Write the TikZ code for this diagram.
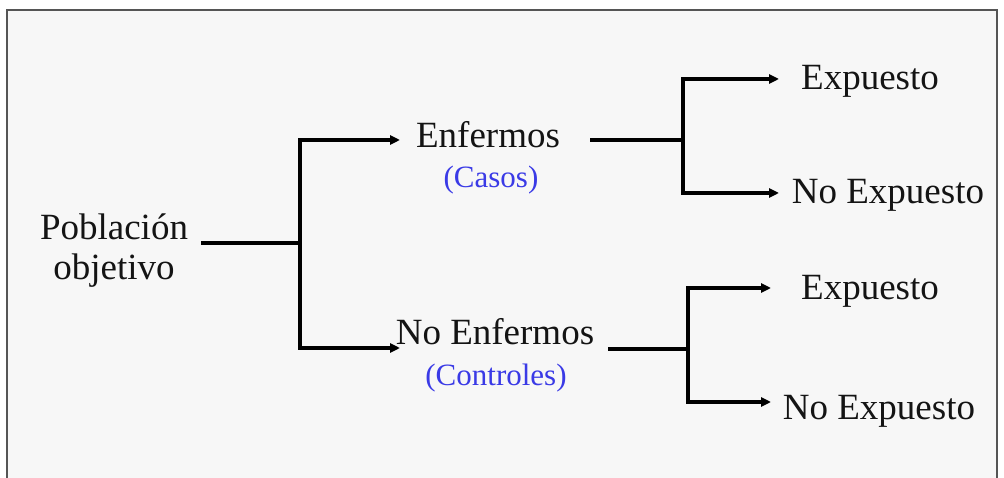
\documentclass[tikz,border=0pt]{standalone}
\usepackage{fontspec}
\setmainfont{Liberation Serif}
\usetikzlibrary{arrows.meta}
\definecolor{bgc}{HTML}{F7F7F7}
\definecolor{framec}{HTML}{555555}
\definecolor{labblue}{HTML}{3A3AE6}
\definecolor{txt}{HTML}{141414}
\tikzset{
  lbl/.style={text=txt, font=\fontsize{37}{40}\selectfont, inner sep=0pt, align=center},
  sub/.style={text=labblue, font=\fontsize{31}{34}\selectfont, inner sep=0pt},
  conn/.style={line width=3.2pt, black, line cap=butt, line join=miter},
  arr/.style={conn, -{Triangle[length=10pt,width=9pt]}}
}
\begin{document}
\begin{tikzpicture}[x=1pt,y=-1pt]
\useasboundingbox (0,0) rectangle (1004,478);
\clip (0,0) rectangle (1004,478);
\fill[white] (0,0) rectangle (1004,478);
\draw[fill=bgc, draw=framec, line width=1.8pt] (7,10) rectangle (997,490);

% nodes
\node[lbl] (pob) at (114,251) {Población\\objetivo};
\node[lbl] (enf) at (488,135) {Enfermos};
\node[sub] (cas) at (491,180) {(Casos)};
\node[lbl] (noenf) at (495,332) {No Enfermos};
\node[sub] (con) at (496,378) {(Controles)};
\node[lbl] (e1) at (870,81) {Expuesto};
\node[lbl] (ne1) at (888,195) {No Expuesto};
\node[lbl] (e2) at (870,291) {Expuesto};
\node[lbl] (ne2) at (879,411) {No Expuesto};

% junction coordinates
\coordinate (p0) at (201,243);
\coordinate (j1) at (300,243);
\coordinate (t1) at (300,140);
\coordinate (b1) at (300,348);
\coordinate (a1) at (400,140);
\coordinate (a2) at (400,348);

\coordinate (q0) at (590,140);
\coordinate (j2) at (683,140);
\coordinate (t2) at (683,79);
\coordinate (b2) at (683,193);
\coordinate (c1) at (779,79);
\coordinate (c2) at (779,193);

\coordinate (r0) at (608,349);
\coordinate (j3) at (688,349);
\coordinate (t3) at (688,288);
\coordinate (b3) at (688,402);
\coordinate (d1) at (771,288);
\coordinate (d2) at (771,402);

% connectors
\draw[conn] (p0) -- (j1);
\draw[arr] (j1) -- (t1) -- (a1);
\draw[arr] (j1) -- (b1) -- (a2);

\draw[conn] (q0) -- (j2);
\draw[arr] (j2) -- (t2) -- (c1);
\draw[arr] (j2) -- (b2) -- (c2);

\draw[conn] (r0) -- (j3);
\draw[arr] (j3) -- (t3) -- (d1);
\draw[arr] (j3) -- (b3) -- (d2);
\end{tikzpicture}
\end{document}
